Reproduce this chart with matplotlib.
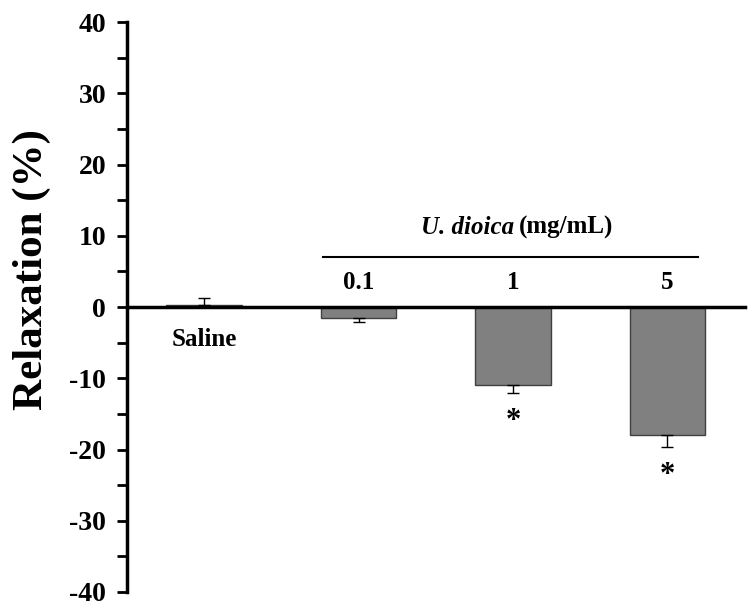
import numpy as np
import matplotlib.pyplot as plt

plt.rcParams['font.family'] = ['Liberation Serif', 'DejaVu Serif']
plt.rcParams['font.weight'] = 'bold'
plt.rcParams['axes.unicode_minus'] = False

# data
groups = ['Saline', '0.1', '1', '5']
values = [0.3, -1.6, -10.9, -17.9]
errors = [1.0, 0.5, 1.1, 1.7]
significant = [False, False, True, True]

x = np.arange(len(groups))

fig = plt.figure(figsize=(7.56, 6.16), dpi=100)
ax = fig.add_axes([0.168, 0.039, 0.817, 0.925])

ax.bar(x, values, width=0.49, color='#808080', edgecolor='#404040', linewidth=1.0, zorder=2)

# one-sided error bars, pointing away from zero
for xi, v, e in zip(x, values, errors):
    if v >= 0:
        yerr = [[0], [e]]
    else:
        yerr = [[e], [0]]
    ax.errorbar(xi, v, yerr=yerr, fmt='none', ecolor='black', elinewidth=1.0,
                capsize=4, capthick=1.0, zorder=3)

for xi, v, e, sig in zip(x, values, errors, significant):
    if sig:
        ax.text(xi, v - e - 4.0, '*', ha='center', va='center', fontsize=22, fontweight='bold')

# labels: saline below the axis, doses above
ax.text(x[0], -4.6, groups[0], ha='center', va='center', fontsize=18, fontweight='bold')
for xi, g in zip(x[1:], groups[1:]):
    ax.text(xi, 3.5, g, ha='center', va='center', fontsize=18, fontweight='bold')

ax.plot([0.77, 3.2], [7.0, 7.0], color='black', linewidth=1.5, clip_on=False)
ax.text(2.01, 11.2, 'U. dioica', ha='right', va='center', fontsize=18,
        fontweight='bold', fontstyle='italic')
ax.text(2.04, 11.2, '(mg/mL)', ha='left', va='center', fontsize=18, fontweight='bold')

ax.set_xlim(-0.5, 3.5)
ax.set_ylim(-40, 40)
ax.set_yticks(np.arange(-40, 41, 10))
ax.set_yticks(np.arange(-35, 40, 10), minor=True)
ax.set_xticks([])
ax.tick_params(axis='y', which='major', length=7, width=2, labelsize=20, direction='out', pad=8)
ax.tick_params(axis='y', which='minor', length=7, width=2, direction='out')
for lbl in ax.get_yticklabels():
    lbl.set_fontweight('bold')

ax.spines['top'].set_visible(False)
ax.spines['right'].set_visible(False)
ax.spines['bottom'].set_position(('data', 0))
ax.spines['bottom'].set_linewidth(2.5)
ax.spines['left'].set_linewidth(2.5)
ax.spines['bottom'].set_zorder(4)

ax.set_ylabel('Relaxation (%)', fontsize=31, fontweight='bold')
ax.yaxis.set_label_coords(-0.123, 0.565)

plt.savefig('out.png', dpi=100)
